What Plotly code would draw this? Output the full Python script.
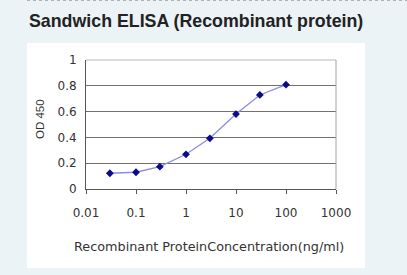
import plotly.graph_objects as go

concentration = [0.03, 0.1, 0.3, 1, 3, 10, 30, 100]
od450 = [0.122, 0.130, 0.173, 0.269, 0.393, 0.581, 0.729, 0.809]
x_tickvals = [0.01, 0.1, 1, 10, 100, 1000]
x_ticktext = ["0.01", "0.1", "1", "10", "100", "1000"]
y_tickvals = [0, 0.2, 0.4, 0.6, 0.8, 1]
y_ticktext = ["0", "0.2", "0.4", "0.6", "0.8", "1"]

W, H = 407, 275
L, R, T, B = 86, 336, 60, 189
pw, ph = R - L, B - T

def px(x):
    return (x - L) / pw

def py(y):
    return (B - y) / ph

FONT = "Liberation Sans, Arial, sans-serif"
TICKFONT = "DejaVu Sans, Verdana, sans-serif"

fig = go.Figure()
fig.add_trace(go.Scatter(
    x=concentration, y=od450, mode="lines+markers",
    line=dict(color="#8c8ce6", width=1.3),
    marker=dict(symbol="diamond", size=6, color="#0a0a8a"),
    showlegend=False, cliponaxis=False,
))

fig.update_layout(
    width=W, height=H,
    margin=dict(l=L, r=W - R, t=T, b=H - B),
    paper_bgcolor="#ebf3f7",
    plot_bgcolor="white",
    font=dict(family=FONT, color="#333333", size=11),
    xaxis=dict(
        type="log", range=[-2, 3], tickvals=x_tickvals, ticktext=x_ticktext,
        tickfont=dict(family=TICKFONT, size=12, color="#333333"),
        showgrid=False, showline=True, linecolor="#555555", linewidth=1,
        ticks="outside", ticklen=4, tickcolor="#555555",
        ticklabelstandoff=9, zeroline=False,
    ),
    yaxis=dict(
        range=[0, 1], tickvals=y_tickvals, ticktext=y_ticktext,
        tickfont=dict(family=TICKFONT, size=12, color="#333333"),
        showgrid=True, gridcolor="#707070", gridwidth=1,
        showline=True, linecolor="#555555", linewidth=1,
        ticks="", ticklabelstandoff=6, zeroline=False,
    ),
    shapes=[
        dict(type="rect", xref="paper", yref="paper",
             x0=px(27), x1=px(365), y0=py(268), y1=py(43),
             fillcolor="white", line=dict(width=0), layer="below"),
        dict(type="line", xref="paper", yref="paper",
             x0=px(27), x1=px(407), y0=py(0.5), y1=py(0.5),
             line=dict(color="#b0b0b0", width=1, dash="dot")),
        dict(type="line", xref="paper", yref="paper",
             x0=0, x1=1, y0=1, y1=1,
             line=dict(color="#b8b8b8", width=1)),
        dict(type="line", xref="paper", yref="paper",
             x0=1, x1=1, y0=0, y1=1,
             line=dict(color="#a0a0a0", width=1)),
    ],
    annotations=[
        dict(text="<b>Sandwich ELISA (Recombinant protein)</b>",
             xref="paper", yref="paper", x=px(27), y=py(21),
             xanchor="left", yanchor="middle", showarrow=False,
             font=dict(family=FONT, size=17.8, color="#222222")),
        dict(text="Recombinant ProteinConcentration(ng/ml)",
             xref="paper", yref="paper", x=px(208.5), y=py(246.5),
             xanchor="center", yanchor="middle", showarrow=False,
             font=dict(family=TICKFONT, size=12.8, color="#333333")),
        dict(text="OD 450", textangle=-90,
             xref="paper", yref="paper", x=px(40), y=py(119),
             xanchor="center", yanchor="middle", showarrow=False,
             font=dict(family=FONT, size=11.5, color="#333333")),
    ],
)

fig.write_html("out.html")
